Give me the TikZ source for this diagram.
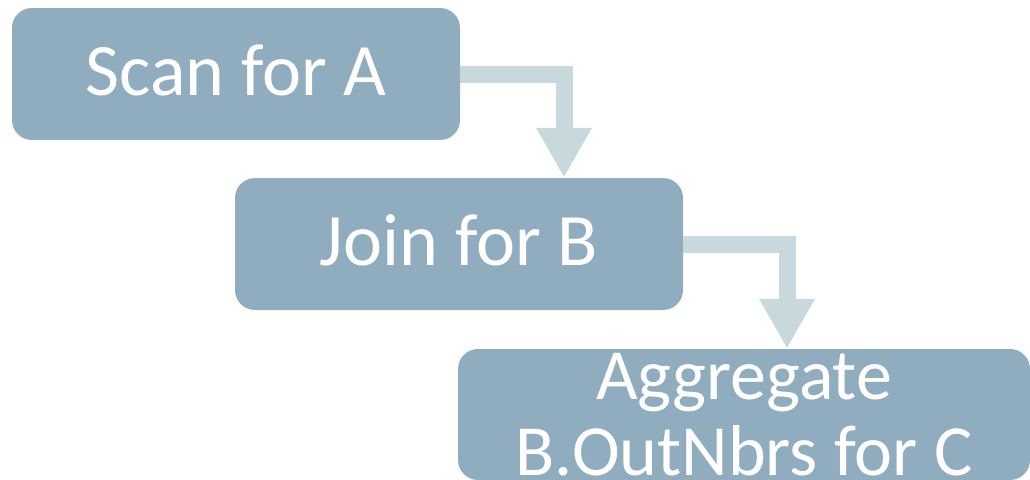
\documentclass[tikz,border=0pt]{standalone}
\usepackage{fontspec}
\setmainfont{Carlito}
\usetikzlibrary{arrows.meta}
\definecolor{boxblue}{HTML}{8FADBF}
\definecolor{flowblue}{HTML}{C8D9DE}
\begin{document}
\begin{tikzpicture}[x=1pt,y=-1pt]
        \tikzstyle{box}=[rectangle, rounded corners=20pt, fill=boxblue, text=white, inner sep=0pt, minimum width=448pt, minimum height=132pt, font=\fontsize{74pt}{77pt}\selectfont, text height=42pt, text depth=0pt]
        \tikzstyle{flow}=[draw=flowblue, line width=17pt, -{Triangle[width=52pt,length=50pt]}]
        \useasboundingbox (0,0) rectangle (1030,479);
        \node[box] (scan) at (236,74) {Scan for A};
        \node[box] (join) at (459,244) {Join for B};
        \node[box, minimum width=572pt, minimum height=131pt, font=\fontsize{72pt}{76pt}\selectfont, align=center, text height={}, text depth={}] (aggr) at (744,414.5) {Aggregate\\B.OutNbrs for C};
        \draw[flow] (scan.east) -| ([xshift=105pt]join.north);
        \draw[flow] (join.east) -| ([xshift=43pt]aggr.north);
\end{tikzpicture}
\end{document}
